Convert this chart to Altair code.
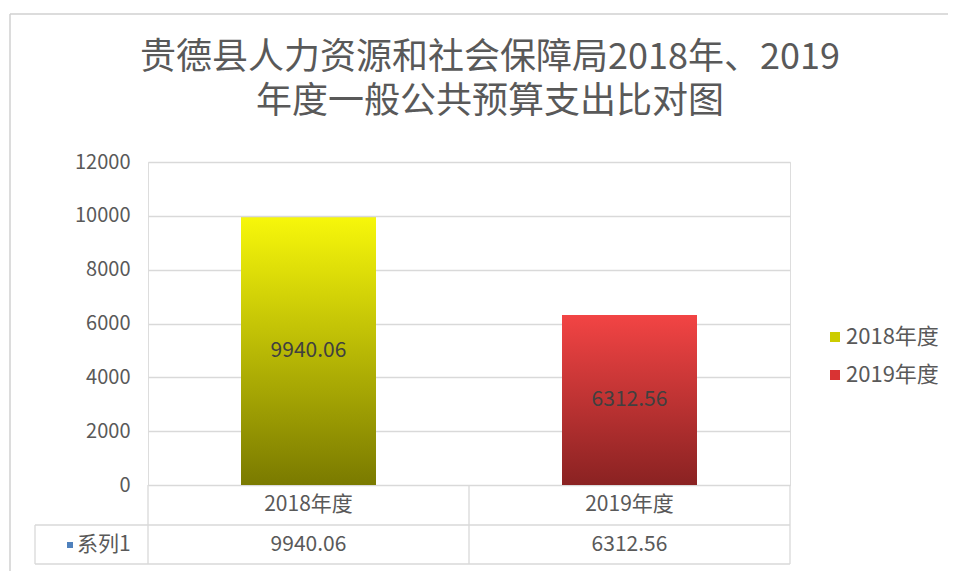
import altair as alt
import pandas as pd

# ---- data ----
categories = ["2018年度", "2019年度"]
values = [9940.06, 6312.56]
series_name = ["系列1"]
y_ticks = [0, 2000, 4000, 6000, 8000, 10000, 12000]
title_lines = ["贵德县人力资源和社会保障局2018年、2019", "年度一般公共预算支出比对图"]

legend_colors = ["#cccc00", "#d93333"]
gradients = {
    "2018年度": ["#f7f70a", "#7a7a00"],
    "2019年度": ["#f24444", "#8a2222"],
}

df = pd.DataFrame({"cat": categories, "value": values})
sdf = pd.DataFrame({"s": series_name})

W, H = 642, 323
FONT = "Noto Sans CJK SC"
TXT = "#595959"
GRID = "#d9d9d9"

xenc = alt.X("cat:N", sort=categories, axis=None,
             scale=alt.Scale(paddingInner=0, paddingOuter=0))
yenc = alt.Y("value:Q", scale=alt.Scale(domain=[0, 12000], nice=False),
             axis=alt.Axis(values=y_ticks, domain=False, ticks=False, title=None,
                           format="d",
                           labelFontSize=20, labelColor=TXT, labelFont=FONT,
                           labelPadding=18, gridColor=GRID, gridWidth=1.3))

base = alt.Chart(df)

bars = base.mark_bar(size=135).encode(
    x=xenc, y=yenc,
    color=alt.Color("cat:N", sort=categories,
                    scale=alt.Scale(domain=categories, range=legend_colors),
                    legend=alt.Legend(title=None, orient="none", legendX=676, legendY=164,
                                      symbolType="square", symbolSize=100,
                                      labelFontSize=22, labelColor=TXT, labelFont=FONT,
                                      labelOffset=0,
                                      rowPadding=16, padding=0, symbolStrokeWidth=0)),
)

grad_layers = []
for cat in categories:
    top, bottom = gradients[cat]
    g = {"gradient": "linear", "x1": 0, "y1": 0, "x2": 0, "y2": 1,
         "stops": [{"offset": 0, "color": top}, {"offset": 1, "color": bottom}]}
    grad_layers.append(
        base.transform_filter(alt.datum.cat == cat)
        .mark_bar(size=135, fill=g)
        .encode(x=alt.X("cat:N", sort=categories), y="value:Q")
    )

labels = base.transform_calculate(mid="datum.value / 2").mark_text(
    fontSize=21, color="#404040", font=FONT, baseline="middle"
).encode(x=alt.X("cat:N", sort=categories), y="mid:Q",
         text=alt.Text("value:Q", format=".2f"))

# data table below the axis
tab_cat = base.mark_text(fontSize=21, color=TXT, font=FONT, baseline="middle").encode(
    x=alt.X("cat:N", sort=categories), y=alt.value(343), text="cat:N")
tab_val = base.mark_text(fontSize=21, color=TXT, font=FONT, baseline="middle").encode(
    x=alt.X("cat:N", sort=categories), y=alt.value(383),
    text=alt.Text("value:Q", format=".2f"))
ser_sq = alt.Chart(sdf).mark_square(size=36, color="#4f81bd", opacity=1).encode(
    x=alt.value(-78), y=alt.value(383))
ser_txt = alt.Chart(sdf).mark_text(fontSize=21, color=TXT, font=FONT, align="left",
                                   baseline="middle").encode(
    x=alt.value(-71), y=alt.value(383), text="s:N")

rule_style = dict(color=GRID, strokeWidth=1.3)
h1 = alt.Chart(sdf).mark_rule(**rule_style).encode(
    x=alt.value(-113), x2=alt.value(W), y=alt.value(363))
h2 = alt.Chart(sdf).mark_rule(**rule_style).encode(
    x=alt.value(-113), x2=alt.value(W), y=alt.value(402))
v_left = alt.Chart(sdf).mark_rule(**rule_style).encode(
    x=alt.value(-113), y=alt.value(363), y2=alt.value(402))
v_cats = base.mark_rule(**rule_style).encode(
    x=alt.X("cat:N", sort=categories, bandPosition=0), y=alt.value(323), y2=alt.value(402))
v_right = alt.Chart(sdf).mark_rule(**rule_style).encode(
    x=alt.value(W), y=alt.value(323), y2=alt.value(402))

# outer chart frame
frame_top = alt.Chart(sdf).mark_rule(color="#d0d0d0", strokeWidth=1.5).encode(
    x=alt.value(-138), x2=alt.value(W + 200), y=alt.value(-148))
frame_left = alt.Chart(sdf).mark_rule(color="#d0d0d0", strokeWidth=1.5).encode(
    x=alt.value(-138), y=alt.value(-148), y2=alt.value(H + 200))

# chart title (two lines)
title_layers = []
for line, ty in zip(title_lines, [-104, -60]):
    title_layers.append(
        alt.Chart(sdf).mark_text(fontSize=36, color=TXT, font=FONT, align="center",
                                 baseline="middle", text=line).encode(
            x=alt.value(342), y=alt.value(ty))
    )

chart = alt.layer(
    frame_top, frame_left, *title_layers,
    bars, *grad_layers, labels,
    h1, h2, v_left, v_cats, v_right,
    tab_cat, tab_val, ser_sq, ser_txt,
).properties(
    width=W, height=H,
    autosize=alt.AutoSizeParams(type="none"),
    padding={"left": 140, "top": 154, "right": 158, "bottom": 86},
).configure_view(strokeWidth=0).configure(background="white")

chart.save("out.html", embed_options={"renderer": "svg", "actions": False})
